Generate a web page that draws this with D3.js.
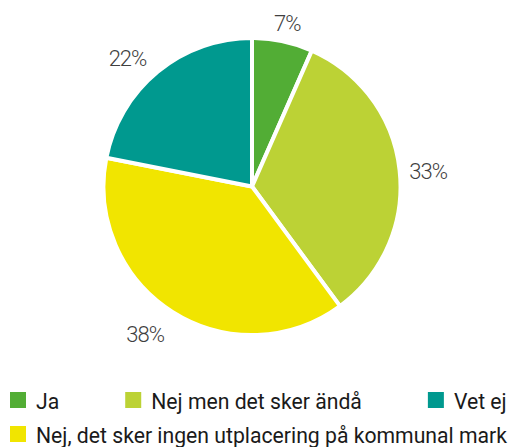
<!DOCTYPE html>
<html>
<head>
<meta charset="utf-8">
<script src="https://cdn.jsdelivr.net/npm/d3@7"></script>
<style>
  body { margin: 0; background: #fff; }
  svg { display: block; }
</style>
</head>
<body>
<svg id="chart"></svg>
<script>
// Data
const categories = ["Ja", "Nej men det sker ändå", "Nej, det sker ingen utplacering på kommunal mark", "Vet ej"];
const values = [6.6, 33.3, 38.2, 21.9];
const colors = ["#52ad35", "#bcd235", "#f1e500", "#00998f"];
const legendOrder = ["Ja", "Nej men det sker ändå", "Vet ej", "Nej, det sker ingen utplacering på kommunal mark"];

const width = 513;
const height = 447;
const cx = 252, cy = 186.5, radius = 148.5;

const svg = d3.select("#chart")
  .attr("width", width)
  .attr("height", height);

const color = d3.scaleOrdinal().domain(categories).range(colors);

const pie = d3.pie().sort(null).value(d => d.value);
const arcs = pie(categories.map((c, i) => ({ category: c, value: values[i] })));

const arc = d3.arc().innerRadius(0).outerRadius(radius);

const g = svg.append("g").attr("transform", `translate(${cx},${cy})`);

g.selectAll("path")
  .data(arcs)
  .join("path")
  .attr("d", arc)
  .attr("fill", d => color(d.data.category))
  .attr("stroke", "#fff")
  .attr("stroke-width", 4)
  .attr("stroke-linejoin", "round");

// Labels outside end
const labelR = 158;
const labels = g.selectAll("text.lbl")
  .data(arcs)
  .join("text")
  .attr("class", "lbl")
  .attr("font-family", "Roboto, sans-serif")
  .attr("font-weight", 300)
  .attr("font-size", 22)
  .attr("letter-spacing", -1)
  .attr("fill", "#404040")
  .attr("text-anchor", "middle")
  .attr("dominant-baseline", "central")
  .text(d => Math.round(d.data.value) + "%");

labels.each(function(d) {
  const a = (d.startAngle + d.endAngle) / 2;
  const bb = this.getBBox();
  const s = Math.sin(a), c = Math.cos(a);
  const x = s * labelR + s * bb.width / 2 + (s < 0 ? -12 : 0);
  const y = -c * labelR - c * bb.height / 2 + 4;
  d3.select(this).attr("x", x).attr("y", y);
});

// Legend (flow layout)
const legend = svg.append("g");
const sq = 16, gapText = 10, gapItem = 66, rowH = 34;
let lx = 10, ly = 392;
legendOrder.forEach(name => {
  const item = legend.append("g");
  item.append("rect")
    .attr("width", sq).attr("height", sq)
    .attr("fill", color(name));
  const t = item.append("text")
    .attr("x", sq + gapText)
    .attr("y", sq / 2 + 1)
    .attr("dominant-baseline", "central")
    .attr("font-family", "Roboto, sans-serif")
    .attr("font-size", 21.2)
    .attr("fill", "#1a1a1a")
    .text(name);
  const w = sq + gapText + t.node().getComputedTextLength();
  if (lx + w > width && lx > 10) { lx = 10; ly += rowH; }
  item.attr("transform", `translate(${lx},${ly})`);
  lx += w + gapItem;
});
</script>
</body>
</html>
